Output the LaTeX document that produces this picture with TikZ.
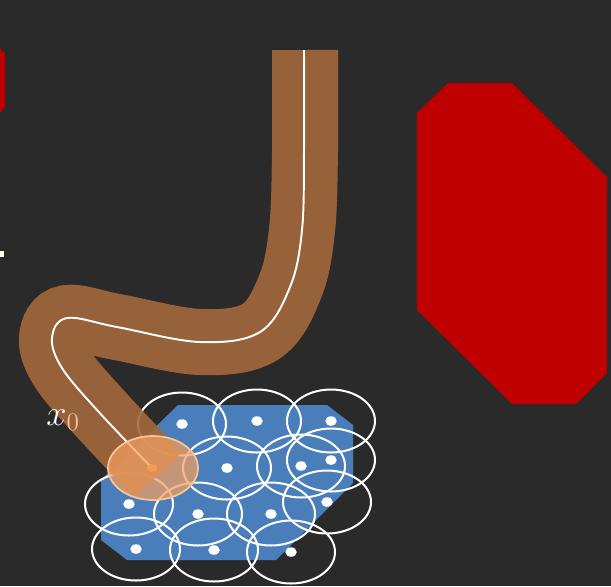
\documentclass[tikz,border=0pt]{standalone}
\usepackage{tikz}
\usepackage{amsmath}
\usetikzlibrary{calc}

\definecolor{board}{RGB}{42,42,42}
\definecolor{blocked}{RGB}{190,0,0}
\definecolor{region}{RGB}{74,126,187}
\definecolor{tube}{RGB}{163,104,60}
\definecolor{startfill}{RGB}{244,160,96}
\definecolor{startedge}{RGB}{250,196,150}

\begin{document}
\begin{tikzpicture}[
    x=0.02cm,y=-0.02cm,
    obstacle/.style={fill=blocked, draw=none},
    ballline/.style={draw=white, line width=1.15pt},
    tubeline/.style={draw=tube, line width=1.32cm, opacity=0.9, line cap=butt},
    pathline/.style={draw=white, line width=1.1pt}
]

% -----------------------------------------------------------------------------
% Board and obstacles
% -----------------------------------------------------------------------------
\useasboundingbox (0,0) rectangle (611,586);
\fill[board] (0,0) rectangle (611,586);

\fill[obstacle] (448,83) -- (512,83) -- (607,177) -- (607,373) -- (576,404)
    -- (512,404) -- (417,310) -- (417,113) -- cycle;
\fill[obstacle] (-20,47) -- (-2,47) -- (5,53) -- (5,107) -- (-3,116)
    -- (-20,116) -- cycle;
\fill[white!92!yellow] (-2,251) rectangle (4,257);

% -----------------------------------------------------------------------------
% Goal region and its covering balls
% -----------------------------------------------------------------------------
\fill[region] (178,405) -- (327,405) -- (353,425) -- (353,483) -- (276,560)
    -- (127,560) -- (101,540) -- (101,480) -- cycle;

\foreach \cx/\cy in {182/424, 257/421, 331/421, 227/468, 301/466, 331/460,
    129/504, 198/514, 271/514, 327/502, 136/549, 214/550, 291/552} {
    \draw[ballline] (\cx,\cy) ellipse[x radius=0.88cm, y radius=0.63cm];
    \fill[white] (\cx,\cy) ellipse[x radius=0.115cm, y radius=0.095cm];
}

% -----------------------------------------------------------------------------
% Tube around the trajectory
% -----------------------------------------------------------------------------
\draw[tubeline] plot[smooth, tension=0.6] coordinates {(305,50) (305,150)
    (302,230) (290,287) (260,332) (200,342) (117,327) (67,318) (52,338)
    (62,368) (97,410) (158,475)};
\draw[pathline] plot[smooth, tension=0.6] coordinates {(304,50) (304,150)
    (302,230) (290,287) (260,332) (200,342) (117,327) (67,318) (52,338)
    (62,368) (97,410) (152,468)};

% -----------------------------------------------------------------------------
% Start state
% -----------------------------------------------------------------------------
\draw[draw=startedge, fill=startfill, fill opacity=0.72, line width=1pt]
    (153,468) ellipse[x radius=0.9cm, y radius=0.64cm];
\fill[startfill!85!orange] (152,468) ellipse[x radius=0.11cm, y radius=0.08cm];

\node[anchor=base west, text=white, inner sep=0pt,
    font=\fontsize{20}{24}\selectfont] (xzero) at (46,425)
    {$x_{\color{startedge}0}$};

\end{tikzpicture}
\end{document}
